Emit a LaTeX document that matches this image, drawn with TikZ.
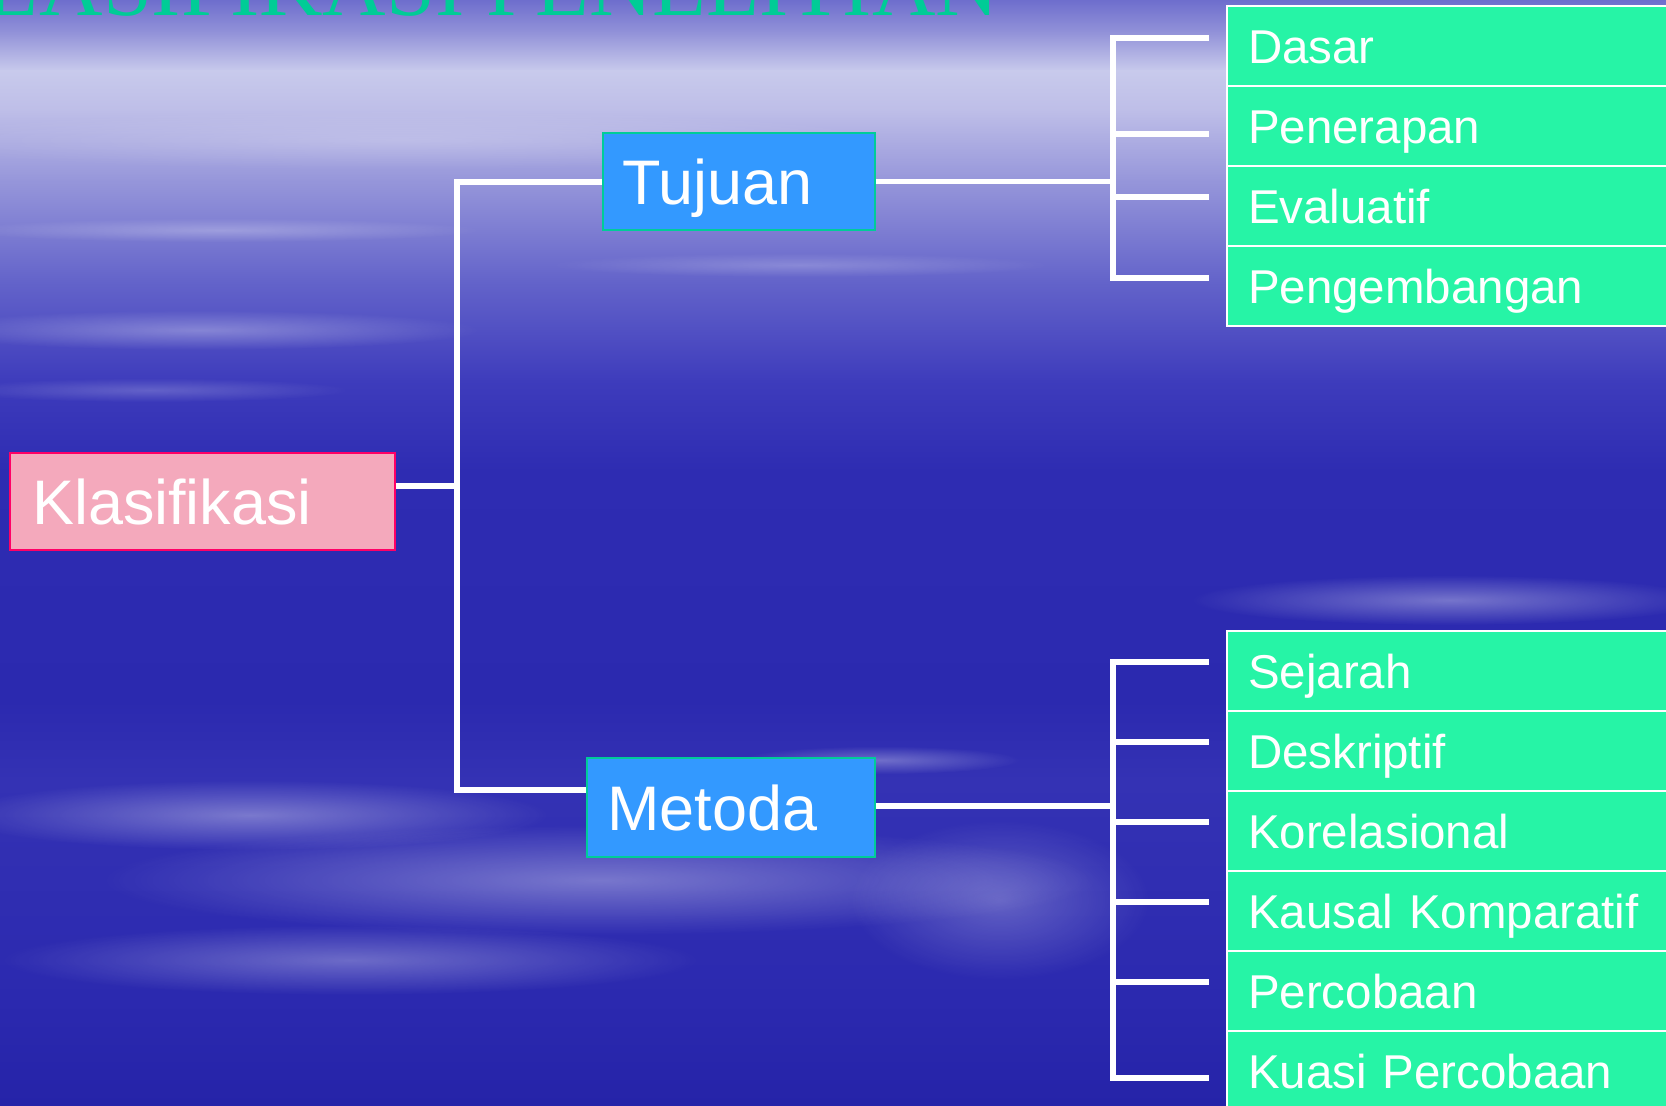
\documentclass[tikz,border=0pt]{standalone}
\usepackage{fontspec}
\setmainfont{Liberation Sans}
\newfontfamily\titlefont{Liberation Serif}
\usepackage{tikz}
\usetikzlibrary{positioning,fadings}

\definecolor{leafgreen}{RGB}{38,244,166}
\definecolor{boxblue}{RGB}{51,153,255}
\definecolor{edgegreen}{RGB}{0,204,153}
\definecolor{titlegreen}{RGB}{0,204,150}
\definecolor{rootpink}{RGB}{244,169,188}
\definecolor{rootedge}{RGB}{255,0,102}
% sky colours, top to bottom
\definecolor{skyA}{RGB}{110,110,205}
\definecolor{skyB}{RGB}{150,150,218}
\definecolor{skyC}{RGB}{200,202,236}
\definecolor{skyD}{RGB}{190,190,232}
\definecolor{skyE}{RGB}{150,150,218}
\definecolor{skyF}{RGB}{100,100,202}
\definecolor{skyG}{RGB}{62,60,188}
\definecolor{skyH}{RGB}{46,44,178}
\definecolor{skyI}{RGB}{43,41,175}
\definecolor{skyJ}{RGB}{52,50,180}
\definecolor{skyK}{RGB}{37,35,168}

\tikzfading[name=softblob, inner color=transparent!0, outer color=transparent!100]

\begin{document}
\begin{tikzpicture}[x=0.01cm,y=-0.01cm,
  wire/.style={draw=white,line width=1.6pt},
  main/.style={rectangle,anchor=north west,line width=0.6pt,text=white,
    font=\fontsize{17.9}{20}\selectfont,text height=12.8pt,text depth=0pt,
    align=left,inner ysep=0pt},
  mid/.style={main,draw=edgegreen,fill=boxblue},
  leaf/.style={rectangle,anchor=north west,draw=white,fill=leafgreen,line width=0.6pt,
    text=white,font=\fontsize{13.5}{15}\selectfont,minimum width=4.6cm,minimum height=0.8cm,
    text width=4.18cm,inner xsep=0.21cm,text height=9.67pt,text depth=0pt,align=left},
  streak/.style={fill=white,path fading=softblob}]

\useasboundingbox (0,0) rectangle (1666,1106);
\clip (0,0) rectangle (1666,1106);

% background sky
\foreach \ya/\yb/\ca/\cb in {0/36/skyA/skyB,35/71/skyB/skyC,70/111/skyC/skyD,
    110/181/skyD/skyE,180/281/skyE/skyF,280/381/skyF/skyG,380/471/skyG/skyH,
    470/701/skyH/skyI,700/781/skyI/skyJ,780/1001/skyJ/skyI,1000/1106/skyI/skyK}
  \shade[top color=\ca,bottom color=\cb] (0,\ya) rectangle (1666,\yb);

% streaks
\fill[streak,fill opacity=.2]  (400,140) ellipse (500 and 30);
\fill[streak,fill opacity=.25] (220,230) ellipse (260 and 12);
\fill[streak,fill opacity=.3]  (200,330) ellipse (280 and 20);
\fill[streak,fill opacity=.2]  (150,390) ellipse (200 and 12);
\fill[streak,fill opacity=.2]  (800,265) ellipse (250 and 12);
\fill[streak,fill opacity=.35] (1450,600) ellipse (260 and 25);
\fill[streak,fill opacity=.3]  (880,760) ellipse (140 and 14);
\fill[streak,fill opacity=.35] (250,815) ellipse (300 and 35);
\fill[streak,fill opacity=.35] (600,880) ellipse (500 and 55);
\fill[streak,fill opacity=.3]  (350,960) ellipse (350 and 35);
\fill[streak,fill opacity=.25] (1000,900) ellipse (150 and 80);

% title
\node[anchor=base east,inner sep=0pt,text=titlegreen,
  font=\titlefont\fontsize{25}{30}\selectfont] (title) at (1000,15) {KLASIFIKASI PENELITIAN};

% boxes
\node[main,draw=rootedge,fill=rootpink,minimum height=0.97cm,text width=3.41cm,
  inner xsep=0.22cm] (root) at (9,452) {Klasifikasi};
\node[mid,minimum height=0.97cm,text width=2.34cm,inner xsep=0.19cm] (tuj) at (602,132) {Tujuan};
\node[mid,minimum height=0.99cm,text width=2.48cm,inner xsep=0.2cm] (met) at (586,757) {Metoda};

\foreach \lbl [count=\i] in {Dasar,Penerapan,Evaluatif,Pengembangan}
  \node[leaf] (t\i) at (1226,{5+80*(\i-1)}) {\lbl};
\foreach \lbl [count=\i] in {Sejarah,Deskriptif,Korelasional,Kausal Komparatif,
    Percobaan,Kuasi Percobaan}
  \node[leaf] (m\i) at (1226,{630+80*(\i-1)}) {\lbl};

% trunk
\coordinate (jt) at (457,182);
\coordinate (jm) at (457,790);
\coordinate (jr) at (457,486);
\draw[wire] (tuj.west |- jt) -- (jt) -- (jm) -- (met.west |- jm);
\draw[wire] (root.east |- jr) -- (jr);

% brackets
\coordinate (tbar) at (1113,182);
\coordinate (mbar) at (1113,806);
\foreach \y [count=\i] in {38,134,197,278} \coordinate (tk\i) at (1209,\y);
\foreach \y [count=\i] in {662,742,822,902,982,1078} \coordinate (mk\i) at (1209,\y);

\draw[wire] (tuj.east) -- (tuj.east -| tbar);
\draw[wire] (tk1) -- (tk1 -| tbar) -- (tk4 -| tbar) -- (tk4);
\foreach \i in {2,3} \draw[wire] (tk\i -| tbar) -- (tk\i);

\draw[wire] (met.east |- mbar) -- (mbar);
\draw[wire] (mk1) -- (mk1 -| mbar) -- (mk6 -| mbar) -- (mk6);
\foreach \i in {2,...,5} \draw[wire] (mk\i -| mbar) -- (mk\i);
\end{tikzpicture}
\end{document}
